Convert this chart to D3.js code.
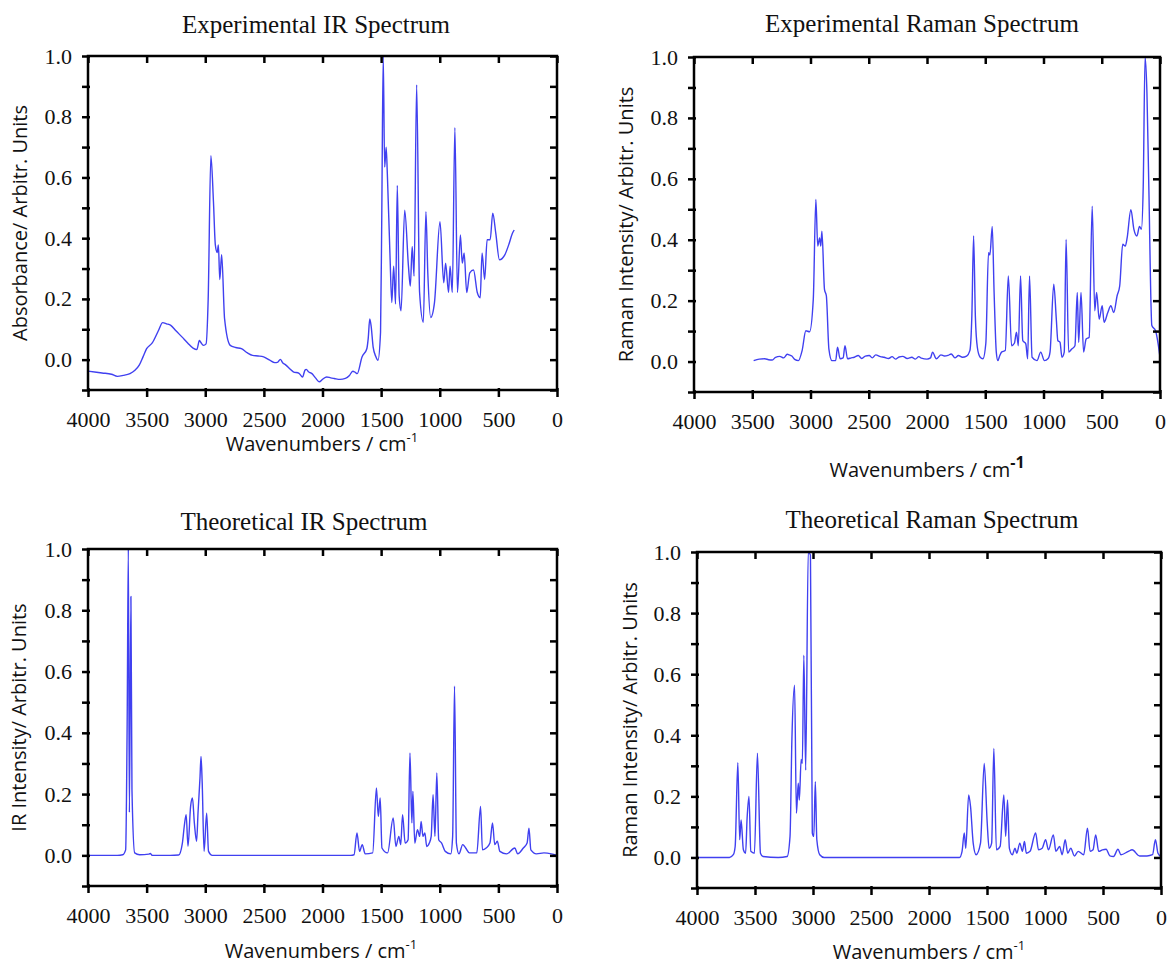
<!DOCTYPE html>
<html>
<head>
<meta charset="utf-8">
<script src="https://d3js.org/d3.v7.min.js"></script>
<style>
  body { margin: 0; background: #fff; }
</style>
</head>
<body>
<svg id="chart" width="1169" height="968"></svg>
<script>
// Experimental IR: wavenumber (cm-1) / absorbance
var irExpWn = [4000, 3880, 3800, 3750, 3700, 3642, 3600, 3563, 3530, 3500, 3452, 3400, 3363, 3330, 3294, 3250, 3199, 3150, 3104, 3072, 3050, 3040, 3015, 2993, 2975, 2952, 2930, 2914, 2898, 2888, 2876, 2860, 2835, 2787, 2740, 2692, 2640, 2597, 2550, 2502, 2450, 2407, 2380, 2360, 2340, 2312, 2280, 2249, 2200, 2170, 2150, 2138, 2120, 2090, 2060, 2027, 2000, 1964, 1930, 1900, 1850, 1805, 1770, 1742, 1720, 1704, 1663, 1622, 1610, 1597, 1585, 1568, 1545, 1527, 1505, 1495, 1482, 1470, 1457, 1447, 1425, 1409, 1393, 1377, 1362, 1346, 1330, 1299, 1267, 1251, 1235, 1219, 1197, 1172, 1140, 1118, 1102, 1077, 1045, 998, 966, 950, 925, 912, 893, 871, 849, 824, 808, 792, 770, 744, 712, 680, 655, 639, 617, 596, 570, 548, 522, 491, 444, 412, 380, 365];
var irExpVal = [-0.038, -0.044, -0.048, -0.055, -0.052, -0.046, -0.035, -0.018, 0.01, 0.036, 0.055, 0.095, 0.122, 0.118, 0.113, 0.095, 0.075, 0.055, 0.038, 0.033, 0.063, 0.058, 0.047, 0.052, 0.2, 0.672, 0.52, 0.378, 0.353, 0.378, 0.264, 0.346, 0.134, 0.047, 0.04, 0.036, 0.022, 0.014, 0.012, 0.009, -0.002, -0.01, -0.008, 0.001, -0.01, -0.018, -0.03, -0.04, -0.045, -0.057, -0.035, -0.032, -0.04, -0.046, -0.06, -0.073, -0.065, -0.057, -0.06, -0.062, -0.065, -0.062, -0.052, -0.038, -0.042, -0.046, 0.009, 0.036, 0.07, 0.134, 0.11, 0.041, 0.01, -0.002, 0.09, 0.45, 1.0, 0.634, 0.7, 0.612, 0.351, 0.188, 0.308, 0.183, 0.574, 0.21, 0.161, 0.492, 0.308, 0.242, 0.373, 0.275, 0.905, 0.221, 0.123, 0.487, 0.286, 0.139, 0.188, 0.454, 0.253, 0.318, 0.221, 0.308, 0.221, 0.764, 0.221, 0.411, 0.318, 0.351, 0.221, 0.286, 0.295, 0.221, 0.204, 0.351, 0.264, 0.395, 0.395, 0.482, 0.416, 0.329, 0.346, 0.378, 0.416, 0.427];

// Experimental Raman
var ramanExpWn = [3488, 3440, 3392, 3360, 3328, 3300, 3264, 3230, 3200, 3184, 3160, 3136, 3104, 3072, 3040, 3008, 2976, 2954, 2938, 2922, 2912, 2902, 2880, 2864, 2842, 2816, 2784, 2768, 2746, 2720, 2704, 2682, 2650, 2624, 2590, 2560, 2530, 2496, 2470, 2440, 2400, 2368, 2330, 2300, 2270, 2240, 2208, 2170, 2130, 2100, 2070, 2048, 2000, 1970, 1952, 1920, 1880, 1850, 1820, 1792, 1760, 1730, 1696, 1660, 1632, 1615, 1600, 1585, 1568, 1545, 1520, 1495, 1472, 1460, 1440, 1424, 1405, 1392, 1375, 1360, 1328, 1302, 1274, 1250, 1232, 1216, 1197, 1178, 1152, 1136, 1120, 1098, 1056, 1024, 992, 960, 944, 912, 890, 877, 858, 842, 822, 806, 784, 758, 730, 710, 698, 678, 656, 634, 608, 582, 560, 544, 522, 496, 480, 448, 422, 397, 368, 346, 320, 298, 282, 250, 224, 198, 176, 160, 144, 128, 112, 96, 70, 38, 16, 0];
var ramanExpVal = [0.003, 0.008, 0.009, 0.006, 0.005, 0.014, 0.017, 0.012, 0.024, 0.022, 0.018, 0.007, 0.003, 0.036, 0.101, 0.098, 0.205, 0.532, 0.379, 0.406, 0.379, 0.428, 0.237, 0.216, 0.041, 0.003, 0.003, 0.047, 0.009, 0.012, 0.052, 0.009, 0.012, 0.014, 0.02, 0.01, 0.018, 0.02, 0.012, 0.022, 0.016, 0.014, 0.01, 0.016, 0.008, 0.015, 0.017, 0.01, 0.014, 0.008, 0.016, 0.011, 0.008, 0.012, 0.031, 0.009, 0.022, 0.018, 0.02, 0.025, 0.012, 0.02, 0.014, 0.018, 0.036, 0.15, 0.412, 0.15, 0.047, 0.015, 0.009, 0.06, 0.357, 0.35, 0.444, 0.227, 0.03, 0.003, 0.02, 0.031, 0.036, 0.281, 0.052, 0.06, 0.096, 0.052, 0.281, 0.069, 0.058, 0.009, 0.281, 0.014, 0.003, 0.031, 0.003, 0.01, 0.031, 0.254, 0.139, 0.069, 0.063, 0.014, 0.031, 0.401, 0.031, 0.041, 0.052, 0.227, 0.063, 0.227, 0.031, 0.074, 0.08, 0.51, 0.167, 0.227, 0.139, 0.183, 0.129, 0.161, 0.183, 0.161, 0.216, 0.248, 0.385, 0.379, 0.406, 0.499, 0.434, 0.412, 0.444, 0.434, 0.575, 1.0, 0.88, 0.575, 0.118, 0.101, 0.058, 0.014];

// Theoretical IR
var irTheoWn = [4000, 3750, 3704, 3679, 3666, 3656, 3647, 3634, 3625, 3602, 3560, 3481, 3470, 3450, 3300, 3227, 3195, 3179, 3163, 3147, 3125, 3109, 3093, 3074, 3061, 3045, 3036, 3026, 3010, 2988, 2972, 2940, 2500, 1760, 1731, 1706, 1684, 1661, 1636, 1572, 1540, 1524, 1508, 1493, 1445, 1397, 1374, 1349, 1333, 1317, 1295, 1270, 1254, 1238, 1229, 1213, 1190, 1171, 1159, 1143, 1127, 1111, 1089, 1073, 1057, 1041, 1025, 1009, 984, 953, 906, 890, 874, 858, 836, 804, 779, 747, 684, 652, 636, 604, 572, 550, 531, 509, 487, 430, 360, 335, 287, 255, 239, 223, 175, 111, 48, 0];
var irTheoVal = [0, 0, 0.002, 0.018, 0.43, 1.0, 0.14, 0.845, 0.214, 0.008, 0.002, 0.004, 0.006, 0, 0, 0.001, 0.04, 0.095, 0.133, 0.03, 0.16, 0.187, 0.106, 0.046, 0.144, 0.252, 0.323, 0.236, 0.013, 0.138, 0.013, 0, 0, 0, 0.002, 0.073, 0.013, 0.035, 0.005, 0.008, 0.22, 0.127, 0.187, 0.024, 0.008, 0.122, 0.029, 0.062, 0.035, 0.133, 0.04, 0.051, 0.334, 0.106, 0.209, 0.04, 0.084, 0.062, 0.111, 0.062, 0.073, 0.029, 0.04, 0.062, 0.198, 0.062, 0.269, 0.051, 0.04, 0.013, 0.005, 0.062, 0.552, 0.04, 0.005, 0.035, 0.024, 0.008, 0.008, 0.16, 0.018, 0.024, 0.04, 0.106, 0.035, 0.046, 0.013, 0.005, 0.024, 0.005, 0.024, 0.04, 0.089, 0.018, 0.005, 0.008, 0.005, 0];

// Theoretical Raman
var ramanTheoWn = [4000, 3720, 3687, 3671, 3648, 3632, 3620, 3600, 3581, 3568, 3552, 3536, 3505, 3479, 3453, 3431, 3300, 3223, 3198, 3182, 3159, 3143, 3127, 3118, 3102, 3092, 3079, 3063, 3041, 3022, 3006, 2993, 2980, 2967, 2942, 2904, 2500, 1737, 1715, 1696, 1683, 1658, 1642, 1619, 1594, 1556, 1524, 1498, 1482, 1460, 1441, 1419, 1387, 1355, 1339, 1323, 1307, 1281, 1259, 1243, 1217, 1195, 1177, 1161, 1129, 1081, 1056, 1024, 995, 970, 928, 906, 874, 852, 826, 804, 778, 746, 714, 666, 634, 611, 586, 563, 537, 505, 473, 441, 409, 371, 345, 281, 249, 185, 121, 73, 48, 26, 0];
var ramanTheoVal = [0, 0, 0.009, 0.036, 0.31, 0.058, 0.123, 0.025, 0.014, 0.129, 0.2, 0.02, 0.014, 0.341, 0.014, 0.003, 0, 0.003, 0.069, 0.385, 0.564, 0.145, 0.243, 0.188, 0.321, 0.308, 0.662, 0.286, 1.0, 0.99, 0.08, 0.069, 0.248, 0.058, 0.009, 0, 0, 0, 0.02, 0.08, 0.03, 0.205, 0.167, 0.047, 0.009, 0.047, 0.308, 0.112, 0.03, 0.047, 0.357, 0.025, 0.036, 0.205, 0.069, 0.188, 0.03, 0.009, 0.03, 0.014, 0.047, 0.02, 0.052, 0.014, 0.02, 0.08, 0.025, 0.03, 0.058, 0.025, 0.074, 0.02, 0.036, 0.009, 0.058, 0.014, 0.03, 0.005, 0.02, 0.009, 0.096, 0.02, 0.025, 0.074, 0.02, 0.025, 0.027, 0.005, 0.003, 0.027, 0.009, 0.02, 0.025, 0.005, 0.005, 0.009, 0.058, 0.014, 0.003];

// Axis ticks
var xTickValues = [4000, 3500, 3000, 2500, 2000, 1500, 1000, 500, 0];
var yTickValues = [-0.1, 0, 0.1, 0.2, 0.3, 0.4, 0.5, 0.6, 0.7, 0.8, 0.9, 1.0];
var yLabelValues = [0, 0.2, 0.4, 0.6, 0.8, 1.0];

// Layout of the four panels
var panels = [
    { title: "Experimental IR Spectrum", ylabel: "Absorbance/ Arbitr. Units", wn: irExpWn, val: irExpVal,
      left: 88, right: 557, top: 56, bottom: 390, titleX: 316, titleY: 33, xlabX: 322, xlabY: 451, ylabX: 20, supSize: 13 },
    { title: "Experimental Raman Spectrum", ylabel: "Raman Intensity/ Arbitr. Units", wn: ramanExpWn, val: ramanExpVal,
      left: 694, right: 1160, top: 57, bottom: 392, titleX: 922, titleY: 32, xlabX: 927, xlabY: 477, ylabX: 626, supSize: 16 },
    { title: "Theoretical IR Spectrum", ylabel: "IR Intensity/ Arbitr. Units", wn: irTheoWn, val: irTheoVal,
      left: 88, right: 557, top: 549, bottom: 886, titleX: 304, titleY: 530, xlabX: 321, xlabY: 958, ylabX: 19, supSize: 13 },
    { title: "Theoretical Raman Spectrum", ylabel: "Raman Intensity/ Arbitr. Units", wn: ramanTheoWn, val: ramanTheoVal,
      left: 697, right: 1161, top: 552, bottom: 888, titleX: 932, titleY: 528, xlabX: 929, xlabY: 959, ylabX: 630, supSize: 13 }
];

var svg = d3.select("#chart");
var lineColor = "#4040f0";

function drawPanel(p) {
    var x = d3.scaleLinear().domain([4000, 0]).range([p.left, p.right]);
    var y = d3.scaleLinear().domain([-0.1, 1.0]).range([p.bottom, p.top]);
    var g = svg.append("g");

    var pts = p.wn.map(function (w, i) { return [w, p.val[i]]; });

    // spectrum line
    g.append("path")
        .datum(pts)
        .attr("d", d3.line()
            .x(function (d) { return x(d[0]); })
            .y(function (d) { return y(d[1]); })
            .curve(d3.curveMonotoneX))
        .attr("fill", "none")
        .attr("stroke", lineColor)
        .attr("stroke-width", 1.4)
        .attr("stroke-linejoin", "round");

    // bottom axis with labels
    var bottomAxis = g.append("g")
        .attr("transform", "translate(0," + p.bottom + ")")
        .call(d3.axisBottom(x).tickValues(xTickValues).tickSizeInner(7).tickSizeOuter(0).tickPadding(14)
            .tickFormat(d3.format("d")));
    bottomAxis.selectAll(".tick line").attr("y1", -2);

    // left axis, labels only on the even tenths
    var leftAxis = g.append("g")
        .attr("transform", "translate(" + p.left + ",0)")
        .call(d3.axisLeft(y).tickValues(yTickValues).tickSizeInner(6).tickSizeOuter(0).tickPadding(10)
            .tickFormat(function (d) {
                var keep = yLabelValues.some(function (v) { return Math.abs(v - d) < 1e-9; });
                return keep ? d3.format(".1f")(d) : "";
            }));
    leftAxis.selectAll(".tick line").attr("x1", 2);

    // top and right: inner ticks only
    g.append("g")
        .attr("transform", "translate(0," + p.top + ")")
        .call(d3.axisTop(x).tickValues(xTickValues).tickSizeInner(-7).tickSizeOuter(0).tickFormat(""));
    g.append("g")
        .attr("transform", "translate(" + p.right + ",0)")
        .call(d3.axisRight(y).tickValues(yTickValues).tickSizeInner(-7).tickSizeOuter(0).tickFormat(""));

    g.selectAll(".domain").remove();
    g.selectAll(".tick line").attr("stroke", "#000").attr("stroke-width", 2.5);
    g.selectAll(".tick text")
        .attr("fill", "#111")
        .style("font-family", "'Liberation Serif', 'Times New Roman', serif")
        .style("font-size", "22px");

    // frame
    g.append("rect")
        .attr("x", p.left)
        .attr("y", p.top)
        .attr("width", p.right - p.left)
        .attr("height", p.bottom - p.top)
        .attr("fill", "none")
        .attr("stroke", "#000")
        .attr("stroke-width", 2.5);

    // title
    g.append("text")
        .attr("x", p.titleX)
        .attr("y", p.titleY)
        .attr("text-anchor", "middle")
        .style("font-family", "'Liberation Serif', 'Times New Roman', serif")
        .style("font-size", "25px")
        .attr("fill", "#111")
        .text(p.title);

    // x axis label with superscript
    var xl = g.append("text")
        .attr("x", p.xlabX)
        .attr("y", p.xlabY)
        .attr("text-anchor", "middle")
        .style("font-family", "'Open Sans', sans-serif")
        .style("font-size", "20px")
        .attr("fill", "#111");
    xl.append("tspan").text("Wavenumbers / cm");
    xl.append("tspan")
        .attr("dy", -9)
        .style("font-size", p.supSize + "px")
        .style("font-weight", p.supSize > 14 ? "bold" : "normal")
        .text("-1");

    // y axis label
    g.append("text")
        .attr("transform", "translate(" + p.ylabX + "," + ((p.top + p.bottom) / 2) + ") rotate(-90)")
        .attr("text-anchor", "middle")
        .attr("dy", "0.35em")
        .style("font-family", "'Open Sans', sans-serif")
        .style("font-size", "20px")
        .attr("fill", "#111")
        .text(p.ylabel);
}

panels.forEach(drawPanel);
</script>
</body>
</html>
